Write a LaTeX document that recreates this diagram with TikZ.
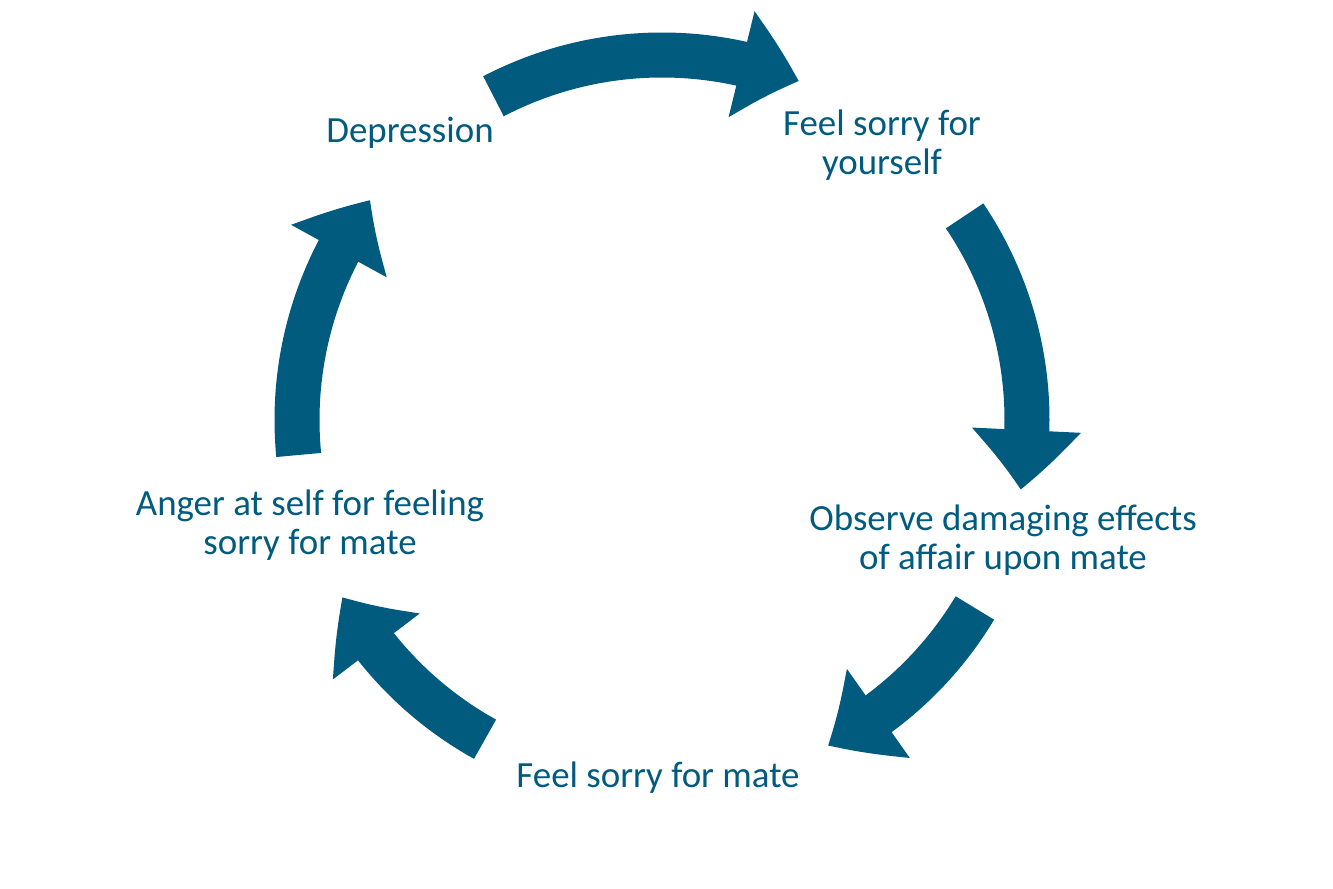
\documentclass[tikz,border=0pt]{standalone}
\usepackage{fontspec}
\setmainfont{Carlito}
\usetikzlibrary{arrows.meta,bending}
\definecolor{cyclecol}{HTML}{005B7E}

\begin{document}
\begin{tikzpicture}[
    stage/.style={text=cyclecol, align=center, font=\fontsize{10.5}{11.2}\selectfont},
    cyc/.style={draw=cyclecol, line width=0.45cm, -{Triangle[bend,length=0.6cm,width=1.05cm]}}
  ]
  \useasboundingbox (0,0) rectangle (13.33,8.89);
  % Mittelpunkt des Kreises
  \coordinate (c) at (6.62,4.69);

  % Stationen
  \node[stage] (dep) at (4.10,7.56) {Depression};
  \node[stage] (self) at (8.82,7.44) {Feel sorry for\\yourself};
  \node[stage] (obs) at (10.03,3.49) {Observe damaging effects\\of affair upon mate};
  \node[stage] (mate) at (6.58,1.11) {Feel sorry for mate};
  \node[stage] (ang) at (3.10,3.64) {Anger at self for feeling\\sorry for mate};

  % Pfeile
  \draw[cyc] ([shift={(117.5:3.65)}]c) arc (117.5:68:3.65);
  \draw[cyc] ([shift={(34:3.65)}]c) arc (34:-11:3.65);
  \draw[cyc] ([shift={(-31:3.65)}]c) arc (-31:-63:3.65);
  \draw[cyc] ([shift={(-119:3.65)}]c) arc (-119:-151:3.65);
  \draw[cyc] ([shift={(185.5:3.65)}]c) arc (185.5:143:3.65);
\end{tikzpicture}
\end{document}
